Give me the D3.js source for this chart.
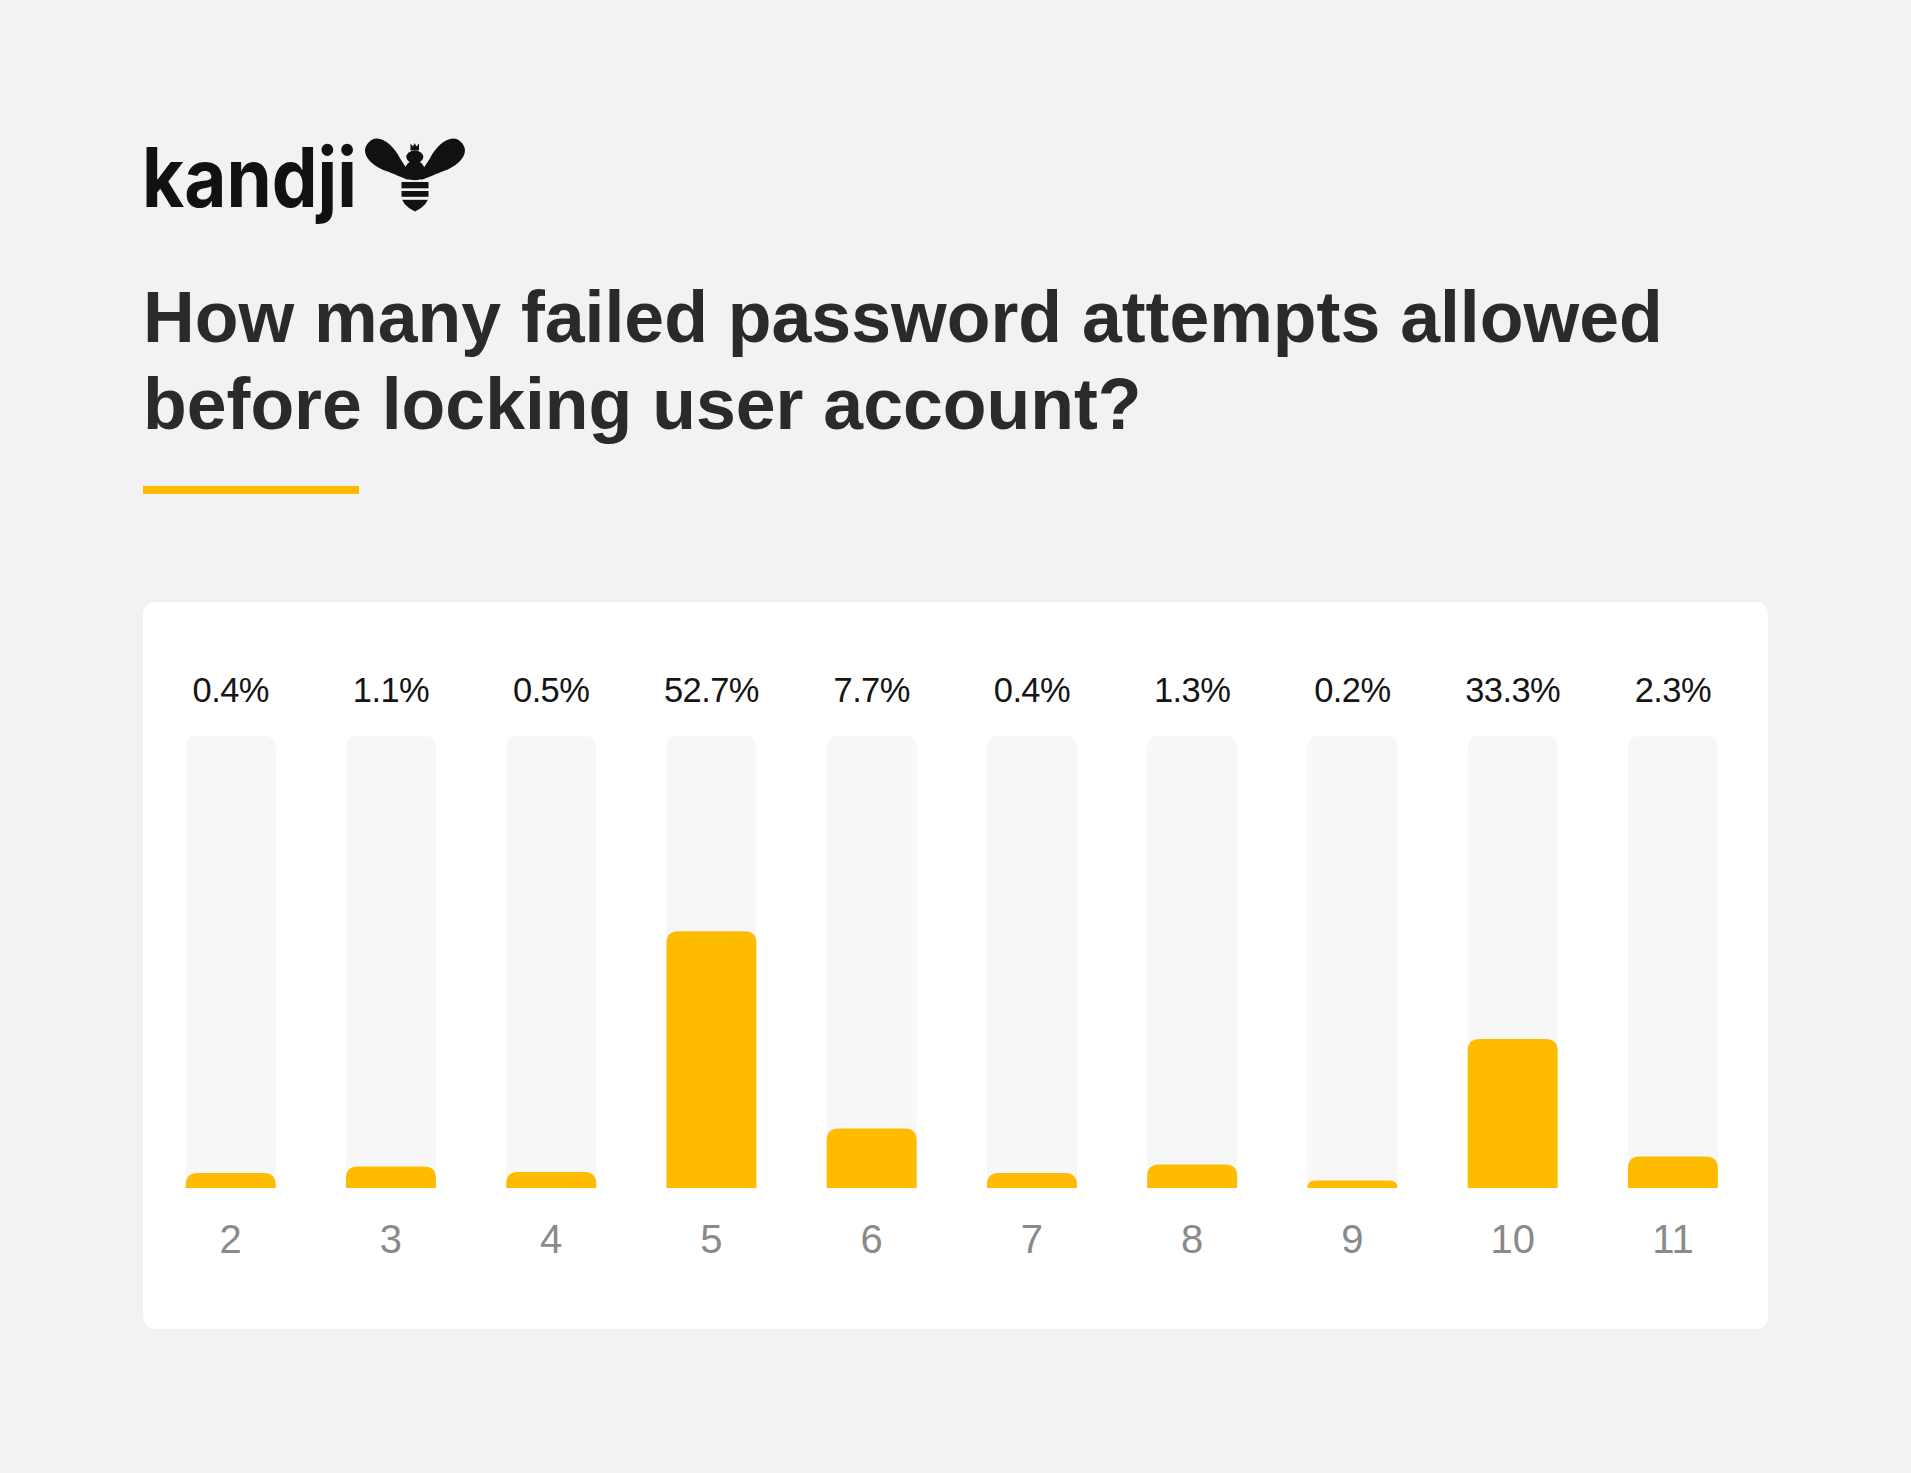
<!DOCTYPE html>
<html>
<head>
<meta charset="utf-8">
<script src="https://cdn.jsdelivr.net/npm/d3@7"></script>
<style>
  html, body { margin: 0; padding: 0; background: #f2f2f2; }
  svg { display: block; }
</style>
</head>
<body>
<script>
// ---- data ----
const categories = ["2", "3", "4", "5", "6", "7", "8", "9", "10", "11"];
const values = [0.4, 1.1, 0.5, 52.7, 7.7, 0.4, 1.3, 0.2, 33.3, 2.3];
const titleLines = ["How many failed password attempts allowed", "before locking user account?"];
const brandName = "kandji";

const W = 1911, H = 1473;
const YELLOW = "#FFBB00";
const BG = "#f2f2f2";

const svg = d3.select("body").append("svg")
  .attr("width", W).attr("height", H)
  .attr("viewBox", `0 0 ${W} ${H}`);

svg.append("rect").attr("width", W).attr("height", H).attr("fill", BG);

// ---- logo ----
const logo = svg.append("g");
logo.append("text")
  .attr("x", 142).attr("y", 207)
  .attr("font-family", "Inter, 'Noto Sans', sans-serif")
  .attr("font-weight", 700)
  .attr("font-size", 82)
  .attr("textLength", 215)
  .attr("lengthAdjust", "spacingAndGlyphs")
  .attr("fill", "#111")
  .text(brandName);

const bee = logo.append("g").attr("fill", "#111");
// wings (teardrop-ish ellipses)
bee.append("path")
  .attr("d", "M-28,0 C-28,-15 -8,-15 6,-9 C18,-5 28,-3 28,0 C28,3 18,5 6,9 C-8,15 -28,15 -28,0 Z")
  .attr("transform", "translate(389.5,161) rotate(40)");
bee.append("path")
  .attr("d", "M-28,0 C-28,-15 -8,-15 6,-9 C18,-5 28,-3 28,0 C28,3 18,5 6,9 C-8,15 -28,15 -28,0 Z")
  .attr("transform", "translate(440.5,161) rotate(140)");
// crown
bee.append("path").attr("d", "M410.5,150.5 L410.5,143.5 L413,146.5 L414.7,143 L416.4,146.5 L419,143.5 L419,150.5 Z");
// head
bee.append("ellipse").attr("cx", 414.8).attr("cy", 157).attr("rx", 8.5).attr("ry", 6.5);
// thorax
bee.append("circle").attr("cx", 414.8).attr("cy", 170.5).attr("r", 10);
// abdomen
bee.append("path").attr("d", "M401.5,181.8 L428.5,181.8 L428.5,196 Q428.5,205 415,211.5 Q401.5,205 401.5,196 Z");
// gaps (background colored)
[[180.3, 1.6], [188.3, 2.7], [196.8, 3.0]].forEach(([y, h]) => {
  logo.append("rect").attr("x", 398).attr("y", y).attr("width", 34).attr("height", h).attr("fill", BG);
});

// ---- title ----
svg.append("g").selectAll("text").data(titleLines).join("text")
  .attr("x", 143)
  .attr("y", (d, i) => 342 + i * 86.5)
  .attr("font-family", "'Liberation Sans', Arial, sans-serif")
  .attr("font-weight", 700)
  .attr("font-size", 71.6)
  .attr("fill", "#2a2a2a")
  .text(d => d);

// accent line
svg.append("rect").attr("x", 143).attr("y", 486).attr("width", 216).attr("height", 8).attr("fill", YELLOW);

// ---- card ----
svg.append("rect")
  .attr("x", 143).attr("y", 602).attr("width", 1625).attr("height", 727)
  .attr("rx", 12).attr("fill", "#ffffff");

// ---- scales ----
const x = d3.scaleBand()
  .domain(categories)
  .range([185.7, 1717.9])
  .paddingInner(0.4384)
  .paddingOuter(0);

// visual (non-linear) height scale, as in the reference: small values are exaggerated
const y = d3.scaleLinear()
  .domain([0, 0.4, 2, 8, 35, 55, 100])
  .range([1188, 1173, 1158, 1127, 1033, 918, 736]);

const bw = x.bandwidth();

function topRounded(x0, y0, w, h, r) {
  r = Math.min(r, h, w / 2);
  return `M${x0},${y0 + h} L${x0},${y0 + r} Q${x0},${y0} ${x0 + r},${y0} ` +
         `L${x0 + w - r},${y0} Q${x0 + w},${y0} ${x0 + w},${y0 + r} L${x0 + w},${y0 + h} Z`;
}

const data = categories.map((c, i) => ({ c, v: values[i] }));

const chart = svg.append("g");

// tracks
chart.selectAll("path.track").data(data).join("path")
  .attr("class", "track")
  .attr("fill", "#f7f7f7")
  .attr("d", d => topRounded(x(d.c), y(100), bw, y(0) - y(100), 12));

// bars
chart.selectAll("path.bar").data(data).join("path")
  .attr("class", "bar")
  .attr("fill", YELLOW)
  .attr("d", d => topRounded(x(d.c), y(d.v), bw, y(0) - y(d.v), 12));

// value labels
chart.selectAll("text.val").data(data).join("text")
  .attr("class", "val")
  .attr("x", d => x(d.c) + bw / 2)
  .attr("y", 702)
  .attr("text-anchor", "middle")
  .attr("font-family", "'Liberation Sans', Arial, sans-serif")
  .attr("font-size", 34.5)
  .attr("letter-spacing", -0.6)
  .attr("fill", "#151515")
  .text(d => d.v.toFixed(1) + "%");

// x axis
const axis = svg.append("g")
  .attr("transform", `translate(0, ${y(0)})`)
  .call(d3.axisBottom(x).tickSize(0).tickPadding(36));
axis.select(".domain").remove();
axis.selectAll("text")
  .attr("font-family", "'Liberation Sans', Arial, sans-serif")
  .attr("font-size", 40)
  .attr("fill", "#8a8a8a")
  .attr("dy", 0)
  .attr("y", 65);
</script>
</body>
</html>
